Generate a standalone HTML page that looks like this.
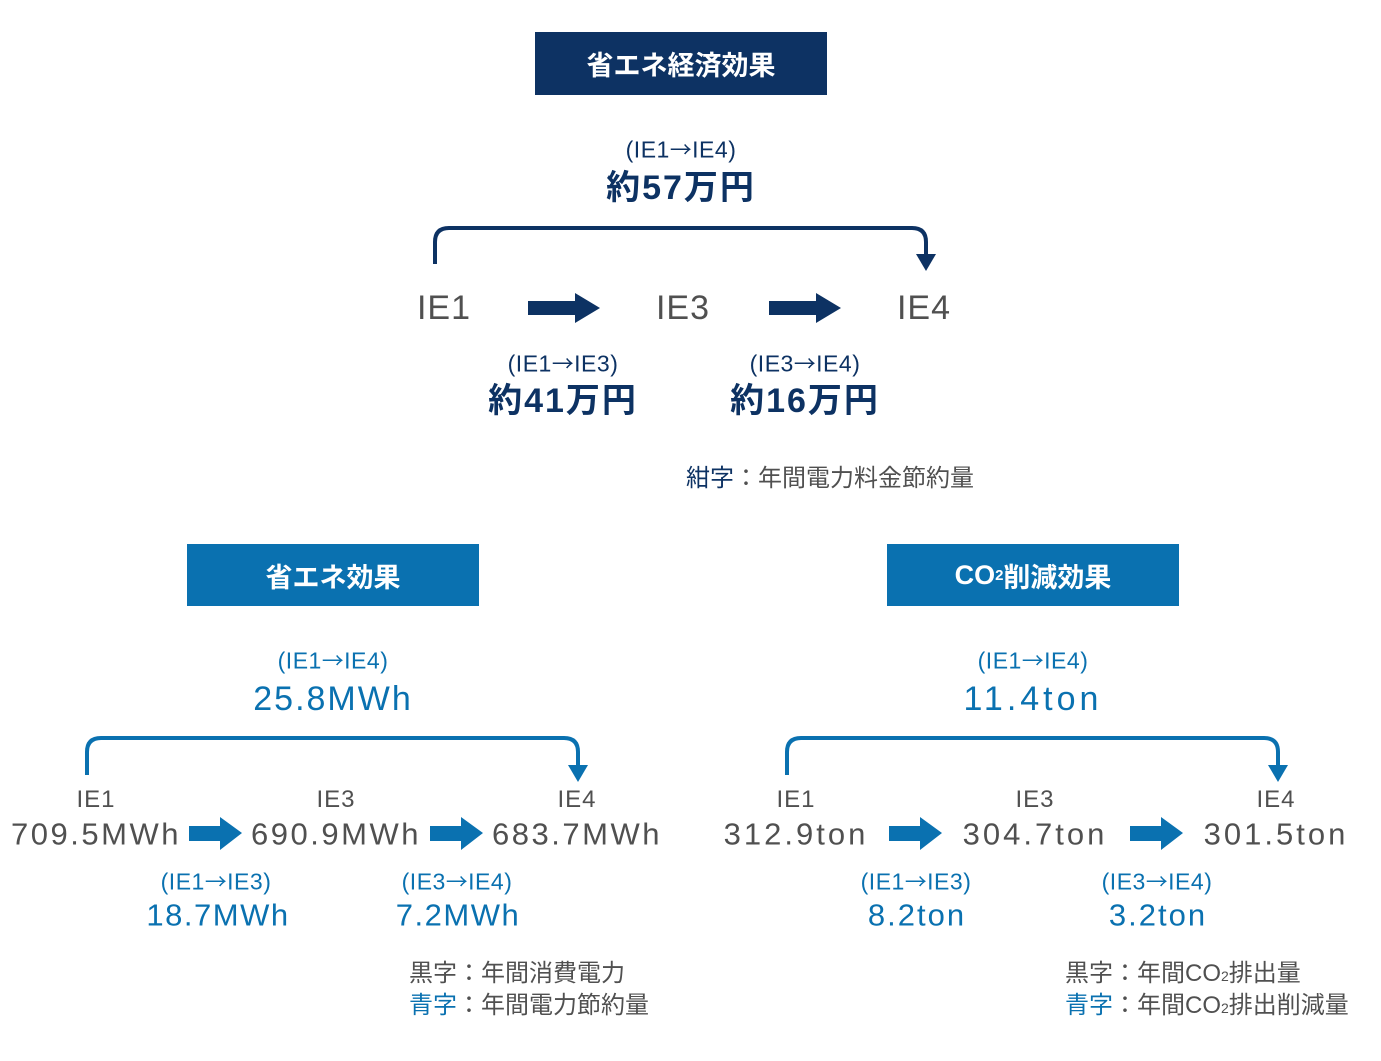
<!DOCTYPE html>
<html><head><meta charset="utf-8"><style>
body{margin:0;width:1381px;height:1061px;background:#fff;position:relative;overflow:hidden;font-family:"Liberation Sans","Noto Sans CJK JP",sans-serif;}
.c{position:absolute;width:500px;margin-left:-250px;text-align:center;line-height:1;transform:translateY(-50%);white-space:nowrap;}
.l{position:absolute;line-height:1;transform:translateY(-50%);white-space:nowrap;font-size:24px;color:#505050;}
.box{position:absolute;color:#fff;font-weight:bold;display:flex;align-items:center;justify-content:center;font-size:27px;}
.n{color:#0d3263}.b{color:#0a71b0}.g{color:#505050}
.p{font-size:23px;letter-spacing:0.5px}
.a{font-family:"Noto Sans CJK JP",sans-serif;font-size:0.95em}
.v{font-size:31px;letter-spacing:2.5px}
svg{position:absolute;left:0;top:0}
</style></head><body>
<div class="box" style="left:535px;top:32px;width:292px;height:63px;background:#0d3263">省エネ経済効果</div>
<div class="box" style="left:187px;top:544px;width:292px;height:62px;background:#0a71b0">省エネ効果</div>
<div class="box" style="left:887px;top:544px;width:292px;height:62px;background:#0a71b0">CO<span style="font-size:15px">2</span>削減効果</div>

<svg width="1381" height="1061">
<g fill="none" stroke-width="4">
<path d="M435 264 V242 Q435 228 449 228 H912 Q926 228 926 242 V256" stroke="#0d3263"/>
<path d="M87 775 V752 Q87 738 101 738 H564 Q578 738 578 752 V766" stroke="#0a71b0"/>
<path d="M787 775 V752 Q787 738 801 738 H1264 Q1278 738 1278 752 V766" stroke="#0a71b0"/>
</g>
<polygon points="916,254 936,254 926,271" fill="#0d3263"/>
<polygon points="568,765 588,765 578,782" fill="#0a71b0"/>
<polygon points="1268,765 1288,765 1278,782" fill="#0a71b0"/>
<g fill="#0d3263">
<polygon points="528,301 575,301 575,293 600,308 575,323 575,315 528,315"/>
<polygon points="769,301 816,301 816,293 841,308 816,323 816,315 769,315"/>
</g>
<g fill="#0a71b0">
<polygon points="189,826 220,826 220,817 242,833 220,850 220,841 189,841"/>
<polygon points="430,826 461,826 461,817 483,833 461,850 461,841 430,841"/>
<polygon points="889,826 920,826 920,817 942,833 920,850 920,841 889,841"/>
<polygon points="1130,826 1161,826 1161,817 1183,833 1161,850 1161,841 1130,841"/>
</g>
</svg>

<div class="c n p" style="left:681px;top:150px">(IE1<span class="a">→</span>IE4)</div>
<div class="c n" style="left:681px;top:188px;font-size:34px;font-weight:bold;letter-spacing:2px">約57万円</div>
<div class="c g" style="left:444px;top:308px;font-size:34px;letter-spacing:1px">IE1</div>
<div class="c g" style="left:683px;top:308px;font-size:34px;letter-spacing:1px">IE3</div>
<div class="c g" style="left:924px;top:308px;font-size:34px;letter-spacing:1px">IE4</div>
<div class="c n p" style="left:563px;top:364px">(IE1<span class="a">→</span>IE3)</div>
<div class="c n" style="left:563px;top:401px;font-size:34px;font-weight:bold;letter-spacing:2px">約41万円</div>
<div class="c n p" style="left:805px;top:364px">(IE3<span class="a">→</span>IE4)</div>
<div class="c n" style="left:805px;top:401px;font-size:34px;font-weight:bold;letter-spacing:2px">約16万円</div>
<div class="l" style="left:686px;top:479px"><span class="n">紺字</span>：年間電力料金節約量</div>

<div class="c b p" style="left:333px;top:661px">(IE1<span class="a">→</span>IE4)</div>
<div class="c b" style="left:333px;top:699px;font-size:34px;letter-spacing:2px">25.8MWh</div>
<div class="c g" style="left:96px;top:800px;font-size:24px;letter-spacing:1px">IE1</div>
<div class="c g v" style="left:96px;top:834px">709.5MWh</div>
<div class="c g" style="left:336px;top:800px;font-size:24px;letter-spacing:1px">IE3</div>
<div class="c g v" style="left:336px;top:834px">690.9MWh</div>
<div class="c g" style="left:577px;top:800px;font-size:24px;letter-spacing:1px">IE4</div>
<div class="c g v" style="left:577px;top:834px">683.7MWh</div>
<div class="c b p" style="left:216px;top:882px">(IE1<span class="a">→</span>IE3)</div>
<div class="c b v" style="left:218px;top:915px;letter-spacing:1.5px">18.7MWh</div>
<div class="c b p" style="left:457px;top:882px">(IE3<span class="a">→</span>IE4)</div>
<div class="c b v" style="left:458px;top:915px;letter-spacing:1.5px">7.2MWh</div>
<div class="l" style="left:409px;top:974px">黒字：年間消費電力</div>
<div class="l" style="left:409px;top:1006px"><span class="b">青字</span>：年間電力節約量</div>

<div class="c b p" style="left:1033px;top:661px">(IE1<span class="a">→</span>IE4)</div>
<div class="c b" style="left:1033px;top:699px;font-size:34px;letter-spacing:4px">11.4ton</div>
<div class="c g" style="left:796px;top:800px;font-size:24px;letter-spacing:1px">IE1</div>
<div class="c g v" style="left:796px;top:834px;letter-spacing:3px">312.9ton</div>
<div class="c g" style="left:1035px;top:800px;font-size:24px;letter-spacing:1px">IE3</div>
<div class="c g v" style="left:1035px;top:834px;letter-spacing:3px">304.7ton</div>
<div class="c g" style="left:1276px;top:800px;font-size:24px;letter-spacing:1px">IE4</div>
<div class="c g v" style="left:1276px;top:834px;letter-spacing:3px">301.5ton</div>
<div class="c b p" style="left:916px;top:882px">(IE1<span class="a">→</span>IE3)</div>
<div class="c b v" style="left:917px;top:915px;letter-spacing:2px">8.2ton</div>
<div class="c b p" style="left:1157px;top:882px">(IE3<span class="a">→</span>IE4)</div>
<div class="c b v" style="left:1158px;top:915px;letter-spacing:2px">3.2ton</div>
<div class="l" style="left:1065px;top:974px">黒字：年間CO<span style="font-size:14px">2</span>排出量</div>
<div class="l" style="left:1065px;top:1006px"><span class="b">青字</span>：年間CO<span style="font-size:14px">2</span>排出削減量</div>
</body></html>
